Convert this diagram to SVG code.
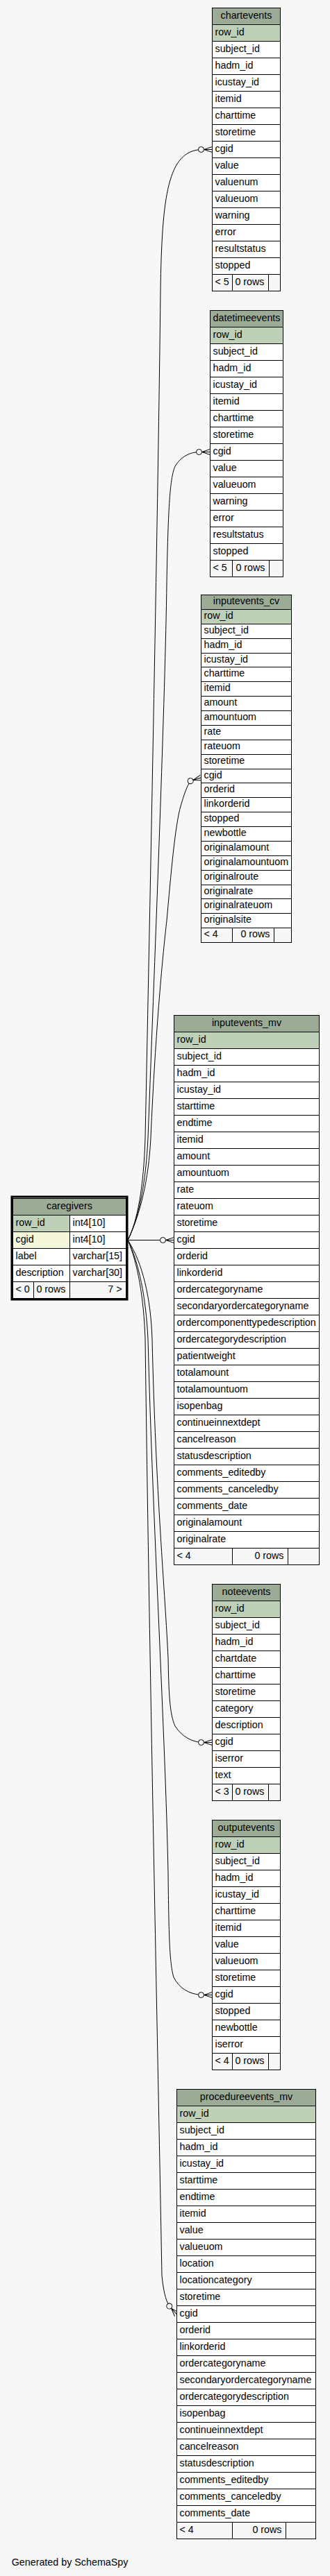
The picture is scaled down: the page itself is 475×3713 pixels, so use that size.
<svg xmlns="http://www.w3.org/2000/svg" xmlns:xlink="http://www.w3.org/1999/xlink" width="475" height="3713" viewBox="0 0 475 3713">
<style>
rect{stroke:#000;stroke-width:1}
.h{fill:#9bab96}.pk{fill:#bed1b8}.c{fill:#fff}.ix{fill:#f4f7da}.f{fill:#f7f7f7}
text{font-family:"Liberation Sans",Arial,Helvetica,sans-serif;font-size:14.3px;fill:#000}
.m{text-anchor:middle}.e{text-anchor:end}
.edge{fill:none;stroke:#000;stroke-width:1}
.ahc{fill:#f7f7f7;stroke:#000;stroke-width:1}
.ahl{fill:none;stroke:#000;stroke-width:1}
.frame{fill:none;stroke:#000;stroke-width:3}
</style>
<defs>
<g id="ah"><path class="ahl" d="M-12,0L0,-4M-12,0L0,4M-12,0L0,0"/><circle class="ahc" cx="-16" cy="0" r="4"/></g>
</defs>
<rect x="0" y="0" width="475" height="3713" style="fill:#f7f7f7;stroke:none"/>

<g id="connectors">
<path class="edge" d="M184,1787.5 C198,1760 207,1710 209,1640 C216,1300 228,700 231,420 C233,280 242,218 289.5,215.5"/>
<use xlink:href="#ah" href="#ah" transform="translate(305.5,215.5)"/>
<path class="edge" d="M184,1787.5 C200,1755 210,1705 213,1640 C224,1350 238,1000 240,840 C242,740 244,690 252,672 C262,656 275,652 286.5,651.5"/>
<use xlink:href="#ah" href="#ah" transform="translate(302.5,651.5)"/>
<path class="edge" d="M184,1787.5 C202,1750 214,1700 217,1640 C224,1480 235,1370 240,1327 C246,1260 252,1190 260,1162 C265,1145 269,1133 274.2,1125.7"/>
<use xlink:href="#ah" href="#ah" transform="translate(289.5,1121) rotate(-17)"/>
<path class="edge" d="M184,1787.5 L234.5,1787.5"/>
<use xlink:href="#ah" href="#ah" transform="translate(250.5,1787.5)"/>
<path class="edge" d="M184,1787.5 C205,1820 217,1870 219,1930 C224,2150 238,2300 242,2390 C243,2440 244,2470 252,2488 C262,2503 275,2510 289.5,2511.5"/>
<use xlink:href="#ah" href="#ah" transform="translate(305.5,2511.5)"/>
<path class="edge" d="M184,1787.5 C200,1820 210,1870 213,1930 C220,2200 238,2500 242,2700 C243,2790 244,2830 250,2850 C258,2866 272,2874 289.5,2875.5"/>
<use xlink:href="#ah" href="#ah" transform="translate(305.5,2875.5)"/>
<path class="edge" d="M184,1787.5 C198,1820 207,1870 209,1930 C215,2400 228,3000 233,3280 C235,3300 238,3315 243.8,3324.1"/>
<use xlink:href="#ah" href="#ah" transform="translate(254.5,3336) rotate(48)"/>
</g>

<g id="chartevents" transform="translate(305.5,11.5)">
<rect class="h" y="0" width="98" height="24"/><text class="m" x="49" y="15">chartevents</text>
<rect class="pk" y="24" width="98" height="24"/><text x="4" y="39">row_id</text>
<rect class="c" y="48" width="98" height="24"/><text x="4" y="63">subject_id</text>
<rect class="c" y="72" width="98" height="24"/><text x="4" y="87">hadm_id</text>
<rect class="c" y="96" width="98" height="24"/><text x="4" y="111">icustay_id</text>
<rect class="c" y="120" width="98" height="24"/><text x="4" y="135">itemid</text>
<rect class="c" y="144" width="98" height="24"/><text x="4" y="159">charttime</text>
<rect class="c" y="168" width="98" height="24"/><text x="4" y="183">storetime</text>
<rect class="c" y="192" width="98" height="24"/><text x="4" y="207">cgid</text>
<rect class="c" y="216" width="98" height="24"/><text x="4" y="231">value</text>
<rect class="c" y="240" width="98" height="24"/><text x="4" y="255">valuenum</text>
<rect class="c" y="264" width="98" height="24"/><text x="4" y="279">valueuom</text>
<rect class="c" y="288" width="98" height="24"/><text x="4" y="303">warning</text>
<rect class="c" y="312" width="98" height="24"/><text x="4" y="327">error</text>
<rect class="c" y="336" width="98" height="24"/><text x="4" y="351">resultstatus</text>
<rect class="c" y="360" width="98" height="24"/><text x="4" y="375">stopped</text>
<rect class="f" x="0" y="384" width="29" height="24"/><rect class="f" x="29" y="384" width="52" height="24"/><rect class="f" x="81" y="384" width="17" height="24"/>
<text x="4" y="399">&lt; 5</text><text class="e" x="75" y="399">0 rows</text>
</g>

<g id="datetimeevents" transform="translate(302.5,447.5)">
<rect class="h" y="0" width="105" height="24"/><text class="m" x="52.5" y="15">datetimeevents</text>
<rect class="pk" y="24" width="105" height="24"/><text x="4" y="39">row_id</text>
<rect class="c" y="48" width="105" height="24"/><text x="4" y="63">subject_id</text>
<rect class="c" y="72" width="105" height="24"/><text x="4" y="87">hadm_id</text>
<rect class="c" y="96" width="105" height="24"/><text x="4" y="111">icustay_id</text>
<rect class="c" y="120" width="105" height="24"/><text x="4" y="135">itemid</text>
<rect class="c" y="144" width="105" height="24"/><text x="4" y="159">charttime</text>
<rect class="c" y="168" width="105" height="24"/><text x="4" y="183">storetime</text>
<rect class="c" y="192" width="105" height="24"/><text x="4" y="207">cgid</text>
<rect class="c" y="216" width="105" height="24"/><text x="4" y="231">value</text>
<rect class="c" y="240" width="105" height="24"/><text x="4" y="255">valueuom</text>
<rect class="c" y="264" width="105" height="24"/><text x="4" y="279">warning</text>
<rect class="c" y="288" width="105" height="24"/><text x="4" y="303">error</text>
<rect class="c" y="312" width="105" height="24"/><text x="4" y="327">resultstatus</text>
<rect class="c" y="336" width="105" height="24"/><text x="4" y="351">stopped</text>
<rect class="f" x="0" y="360" width="32" height="24"/><rect class="f" x="32" y="360" width="53" height="24"/><rect class="f" x="85" y="360" width="20" height="24"/>
<text x="4" y="375">&lt; 5</text><text class="e" x="79" y="375">0 rows</text>
</g>

<g id="inputevents_cv" transform="translate(289.5,857.5)">
<rect class="h" y="0" width="130" height="21"/><text class="m" x="65" y="13">inputevents_cv</text>
<rect class="pk" y="21" width="130" height="21"/><text x="4" y="34">row_id</text>
<rect class="c" y="42" width="130" height="21"/><text x="4" y="55">subject_id</text>
<rect class="c" y="63" width="130" height="21"/><text x="4" y="76">hadm_id</text>
<rect class="c" y="84" width="130" height="20"/><text x="4" y="97">icustay_id</text>
<rect class="c" y="104" width="130" height="21"/><text x="4" y="117">charttime</text>
<rect class="c" y="125" width="130" height="21"/><text x="4" y="138">itemid</text>
<rect class="c" y="146" width="130" height="21"/><text x="4" y="159">amount</text>
<rect class="c" y="167" width="130" height="21"/><text x="4" y="180">amountuom</text>
<rect class="c" y="188" width="130" height="21"/><text x="4" y="201">rate</text>
<rect class="c" y="209" width="130" height="21"/><text x="4" y="222">rateuom</text>
<rect class="c" y="230" width="130" height="21"/><text x="4" y="243">storetime</text>
<rect class="c" y="251" width="130" height="20"/><text x="4" y="264">cgid</text>
<rect class="c" y="271" width="130" height="21"/><text x="4" y="284">orderid</text>
<rect class="c" y="292" width="130" height="21"/><text x="4" y="305">linkorderid</text>
<rect class="c" y="313" width="130" height="21"/><text x="4" y="326">stopped</text>
<rect class="c" y="334" width="130" height="21"/><text x="4" y="347">newbottle</text>
<rect class="c" y="355" width="130" height="21"/><text x="4" y="368">originalamount</text>
<rect class="c" y="376" width="130" height="21"/><text x="4" y="389">originalamountuom</text>
<rect class="c" y="397" width="130" height="21"/><text x="4" y="410">originalroute</text>
<rect class="c" y="418" width="130" height="20"/><text x="4" y="431">originalrate</text>
<rect class="c" y="438" width="130" height="21"/><text x="4" y="451">originalrateuom</text>
<rect class="c" y="459" width="130" height="21"/><text x="4" y="472">originalsite</text>
<rect class="f" x="0" y="480" width="45" height="21"/><rect class="f" x="45" y="480" width="60" height="21"/><rect class="f" x="105" y="480" width="25" height="21"/>
<text x="4" y="493">&lt; 4</text><text class="e" x="99" y="493">0 rows</text>
</g>

<g id="inputevents_mv" transform="translate(250.5,1463.5)">
<rect class="h" y="0" width="209" height="24"/><text class="m" x="104.5" y="15">inputevents_mv</text>
<rect class="pk" y="24" width="209" height="24"/><text x="4" y="39">row_id</text>
<rect class="c" y="48" width="209" height="24"/><text x="4" y="63">subject_id</text>
<rect class="c" y="72" width="209" height="24"/><text x="4" y="87">hadm_id</text>
<rect class="c" y="96" width="209" height="24"/><text x="4" y="111">icustay_id</text>
<rect class="c" y="120" width="209" height="24"/><text x="4" y="135">starttime</text>
<rect class="c" y="144" width="209" height="24"/><text x="4" y="159">endtime</text>
<rect class="c" y="168" width="209" height="24"/><text x="4" y="183">itemid</text>
<rect class="c" y="192" width="209" height="24"/><text x="4" y="207">amount</text>
<rect class="c" y="216" width="209" height="24"/><text x="4" y="231">amountuom</text>
<rect class="c" y="240" width="209" height="24"/><text x="4" y="255">rate</text>
<rect class="c" y="264" width="209" height="24"/><text x="4" y="279">rateuom</text>
<rect class="c" y="288" width="209" height="24"/><text x="4" y="303">storetime</text>
<rect class="c" y="312" width="209" height="24"/><text x="4" y="327">cgid</text>
<rect class="c" y="336" width="209" height="24"/><text x="4" y="351">orderid</text>
<rect class="c" y="360" width="209" height="24"/><text x="4" y="375">linkorderid</text>
<rect class="c" y="384" width="209" height="24"/><text x="4" y="399">ordercategoryname</text>
<rect class="c" y="408" width="209" height="24"/><text x="4" y="423">secondaryordercategoryname</text>
<rect class="c" y="432" width="209" height="24"/><text x="4" y="447">ordercomponenttypedescription</text>
<rect class="c" y="456" width="209" height="24"/><text x="4" y="471">ordercategorydescription</text>
<rect class="c" y="480" width="209" height="24"/><text x="4" y="495">patientweight</text>
<rect class="c" y="504" width="209" height="24"/><text x="4" y="519">totalamount</text>
<rect class="c" y="528" width="209" height="24"/><text x="4" y="543">totalamountuom</text>
<rect class="c" y="552" width="209" height="24"/><text x="4" y="567">isopenbag</text>
<rect class="c" y="576" width="209" height="24"/><text x="4" y="591">continueinnextdept</text>
<rect class="c" y="600" width="209" height="24"/><text x="4" y="615">cancelreason</text>
<rect class="c" y="624" width="209" height="24"/><text x="4" y="639">statusdescription</text>
<rect class="c" y="648" width="209" height="24"/><text x="4" y="663">comments_editedby</text>
<rect class="c" y="672" width="209" height="24"/><text x="4" y="687">comments_canceledby</text>
<rect class="c" y="696" width="209" height="24"/><text x="4" y="711">comments_date</text>
<rect class="c" y="720" width="209" height="24"/><text x="4" y="735">originalamount</text>
<rect class="c" y="744" width="209" height="24"/><text x="4" y="759">originalrate</text>
<rect class="f" x="0" y="768" width="84" height="24"/><rect class="f" x="84" y="768" width="80" height="24"/><rect class="f" x="164" y="768" width="45" height="24"/>
<text x="4" y="783">&lt; 4</text><text class="e" x="158" y="783">0 rows</text>
</g>

<g id="caregivers" transform="translate(18.5,1727.5)">
<rect class="frame" x="-1.5" y="-2.5" width="166" height="148"/>
<rect class="h" y="0" width="163" height="24"/><text class="m" x="81.5" y="15">caregivers</text>
<rect class="pk" x="0" y="24" width="82" height="24"/><rect class="c" x="82" y="24" width="81" height="24"/><text x="4" y="39">row_id</text><text x="86" y="39">int4[10]</text>
<rect class="ix" x="0" y="48" width="82" height="24"/><rect class="c" x="82" y="48" width="81" height="24"/><text x="4" y="63">cgid</text><text x="86" y="63">int4[10]</text>
<rect class="c" x="0" y="72" width="82" height="24"/><rect class="c" x="82" y="72" width="81" height="24"/><text x="4" y="87">label</text><text x="86" y="87">varchar[15]</text>
<rect class="c" x="0" y="96" width="82" height="24"/><rect class="c" x="82" y="96" width="81" height="24"/><text x="4" y="111">description</text><text x="86" y="111">varchar[30]</text>
<rect class="f" x="0" y="120" width="30" height="24"/><rect class="f" x="30" y="120" width="52" height="24"/><rect class="f" x="82" y="120" width="81" height="24"/>
<text x="4" y="135">&lt; 0</text><text class="e" x="76" y="135">0 rows</text><text class="e" x="157" y="135">7 &gt;</text>
</g>

<g id="noteevents" transform="translate(305.5,2283.5)">
<rect class="h" y="0" width="98" height="24"/><text class="m" x="49" y="15">noteevents</text>
<rect class="pk" y="24" width="98" height="24"/><text x="4" y="39">row_id</text>
<rect class="c" y="48" width="98" height="24"/><text x="4" y="63">subject_id</text>
<rect class="c" y="72" width="98" height="24"/><text x="4" y="87">hadm_id</text>
<rect class="c" y="96" width="98" height="24"/><text x="4" y="111">chartdate</text>
<rect class="c" y="120" width="98" height="24"/><text x="4" y="135">charttime</text>
<rect class="c" y="144" width="98" height="24"/><text x="4" y="159">storetime</text>
<rect class="c" y="168" width="98" height="24"/><text x="4" y="183">category</text>
<rect class="c" y="192" width="98" height="24"/><text x="4" y="207">description</text>
<rect class="c" y="216" width="98" height="24"/><text x="4" y="231">cgid</text>
<rect class="c" y="240" width="98" height="24"/><text x="4" y="255">iserror</text>
<rect class="c" y="264" width="98" height="24"/><text x="4" y="279">text</text>
<rect class="f" x="0" y="288" width="29" height="24"/><rect class="f" x="29" y="288" width="52" height="24"/><rect class="f" x="81" y="288" width="17" height="24"/>
<text x="4" y="303">&lt; 3</text><text class="e" x="75" y="303">0 rows</text>
</g>

<g id="outputevents" transform="translate(305.5,2623.5)">
<rect class="h" y="0" width="98" height="24"/><text class="m" x="49" y="15">outputevents</text>
<rect class="pk" y="24" width="98" height="24"/><text x="4" y="39">row_id</text>
<rect class="c" y="48" width="98" height="24"/><text x="4" y="63">subject_id</text>
<rect class="c" y="72" width="98" height="24"/><text x="4" y="87">hadm_id</text>
<rect class="c" y="96" width="98" height="24"/><text x="4" y="111">icustay_id</text>
<rect class="c" y="120" width="98" height="24"/><text x="4" y="135">charttime</text>
<rect class="c" y="144" width="98" height="24"/><text x="4" y="159">itemid</text>
<rect class="c" y="168" width="98" height="24"/><text x="4" y="183">value</text>
<rect class="c" y="192" width="98" height="24"/><text x="4" y="207">valueuom</text>
<rect class="c" y="216" width="98" height="24"/><text x="4" y="231">storetime</text>
<rect class="c" y="240" width="98" height="24"/><text x="4" y="255">cgid</text>
<rect class="c" y="264" width="98" height="24"/><text x="4" y="279">stopped</text>
<rect class="c" y="288" width="98" height="24"/><text x="4" y="303">newbottle</text>
<rect class="c" y="312" width="98" height="24"/><text x="4" y="327">iserror</text>
<rect class="f" x="0" y="336" width="29" height="24"/><rect class="f" x="29" y="336" width="52" height="24"/><rect class="f" x="81" y="336" width="17" height="24"/>
<text x="4" y="351">&lt; 4</text><text class="e" x="75" y="351">0 rows</text>
</g>

<g id="procedureevents_mv" transform="translate(254.5,3011.5)">
<rect class="h" y="0" width="200" height="24"/><text class="m" x="100" y="15">procedureevents_mv</text>
<rect class="pk" y="24" width="200" height="24"/><text x="4" y="39">row_id</text>
<rect class="c" y="48" width="200" height="24"/><text x="4" y="63">subject_id</text>
<rect class="c" y="72" width="200" height="24"/><text x="4" y="87">hadm_id</text>
<rect class="c" y="96" width="200" height="24"/><text x="4" y="111">icustay_id</text>
<rect class="c" y="120" width="200" height="24"/><text x="4" y="135">starttime</text>
<rect class="c" y="144" width="200" height="24"/><text x="4" y="159">endtime</text>
<rect class="c" y="168" width="200" height="24"/><text x="4" y="183">itemid</text>
<rect class="c" y="192" width="200" height="24"/><text x="4" y="207">value</text>
<rect class="c" y="216" width="200" height="24"/><text x="4" y="231">valueuom</text>
<rect class="c" y="240" width="200" height="24"/><text x="4" y="255">location</text>
<rect class="c" y="264" width="200" height="24"/><text x="4" y="279">locationcategory</text>
<rect class="c" y="288" width="200" height="24"/><text x="4" y="303">storetime</text>
<rect class="c" y="312" width="200" height="24"/><text x="4" y="327">cgid</text>
<rect class="c" y="336" width="200" height="24"/><text x="4" y="351">orderid</text>
<rect class="c" y="360" width="200" height="24"/><text x="4" y="375">linkorderid</text>
<rect class="c" y="384" width="200" height="24"/><text x="4" y="399">ordercategoryname</text>
<rect class="c" y="408" width="200" height="24"/><text x="4" y="423">secondaryordercategoryname</text>
<rect class="c" y="432" width="200" height="24"/><text x="4" y="447">ordercategorydescription</text>
<rect class="c" y="456" width="200" height="24"/><text x="4" y="471">isopenbag</text>
<rect class="c" y="480" width="200" height="24"/><text x="4" y="495">continueinnextdept</text>
<rect class="c" y="504" width="200" height="24"/><text x="4" y="519">cancelreason</text>
<rect class="c" y="528" width="200" height="24"/><text x="4" y="543">statusdescription</text>
<rect class="c" y="552" width="200" height="24"/><text x="4" y="567">comments_editedby</text>
<rect class="c" y="576" width="200" height="24"/><text x="4" y="591">comments_canceledby</text>
<rect class="c" y="600" width="200" height="24"/><text x="4" y="615">comments_date</text>
<rect class="f" x="0" y="624" width="80" height="24"/><rect class="f" x="80" y="624" width="77" height="24"/><rect class="f" x="157" y="624" width="43" height="24"/>
<text x="4" y="639">&lt; 4</text><text class="e" x="151" y="639">0 rows</text>
</g>

<text x="16.7" y="3698">Generated by SchemaSpy</text>
</svg>
